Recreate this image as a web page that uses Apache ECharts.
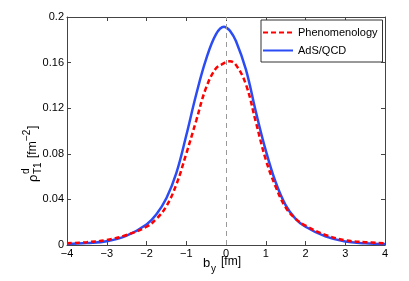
<!DOCTYPE html>
<html><head><meta charset="utf-8">
<script src="https://cdn.jsdelivr.net/npm/echarts@6/dist/echarts.min.js"></script>
<style>html,body{margin:0;padding:0;background:#fff}#c{width:409px;height:281px}</style>
</head><body><div id="c"></div>
<script>
const xs = [-4,-3.5,-3,-2.5,-2,-1.75,-1.5,-1.25,-1,-0.75,-0.5,-0.25,-0.05,0,0.1,0.25,0.5,0.75,1,1.25,1.5,1.75,2,2.5,3,3.5,4];
const phenom = [0.0015,0.0025,0.0044,0.0088,0.016,0.023,0.034,0.053,0.080,0.109,0.138,0.155,0.1595,0.1605,0.1612,0.158,0.141,0.108,0.075,0.051,0.033,0.023,0.017,0.0088,0.0042,0.0025,0.0015];
const adsqcd = [0.0009,0.0017,0.0032,0.0082,0.018,0.027,0.041,0.063,0.096,0.132,0.163,0.185,0.1915,0.1908,0.188,0.179,0.154,0.117,0.083,0.055,0.035,0.023,0.016,0.0075,0.0030,0.0016,0.0009];
const xTicks = [-4,-3,-2,-1,0,1,2,3,4];
const yTicks = [0,0.04,0.08,0.12,0.16,0.2];
const names = ['Phenomenology','AdS/QCD'];

const chart = echarts.init(document.getElementById('c'), null, {renderer:'canvas'});
const axisCol = '#444';
const font = 'Liberation Sans, Arial, sans-serif';
const fmt = v => String(v).replace('-', '\u2212');
const common = {
  axisLine:{show:true,onZero:false,lineStyle:{color:axisCol,width:1}},
  axisTick:{show:true,inside:true,length:4,lineStyle:{color:axisCol}},
  splitLine:{show:false}
};
const lab = {color:'#000',fontSize:11,fontFamily:font};
chart.setOption({
  animation:false,
  grid:{left:67,right:24,top:17,bottom:36},
  xAxis:[
    Object.assign({type:'value',min:xTicks[0],max:xTicks[xTicks.length-1],interval:1,position:'bottom',
      axisLabel:Object.assign({formatter:fmt,margin:3},lab)},common),
    Object.assign({type:'value',min:xTicks[0],max:xTicks[xTicks.length-1],interval:1,position:'top',axisLabel:{show:false}},common)
  ],
  yAxis:[
    Object.assign({type:'value',min:yTicks[0],max:yTicks[yTicks.length-1],interval:0.04,position:'left',
      axisLabel:Object.assign({margin:3},lab)},common),
    Object.assign({type:'value',min:yTicks[0],max:yTicks[yTicks.length-1],interval:0.04,position:'right',axisLabel:{show:false}},common)
  ],
  legend:{
    left:261, top:20, orient:'vertical', itemWidth:30, itemHeight:12, itemGap:7,
    padding:[7,5,6,1], borderColor:'#333', borderWidth:1, backgroundColor:'#fff',
    textStyle:{color:'#000',fontSize:11,fontFamily:font},
    itemStyle:{opacity:0},
    data:names
  },
  series:[
    {name:names[0],type:'line',smooth:0.4,symbol:'none',
     data:xs.map((x,i)=>[x,phenom[i]]),
     lineStyle:{color:'#ff0000',width:2.5,type:[5,3]},itemStyle:{color:'#ff0000'},z:3,
     markLine:{silent:true,symbol:'none',label:{show:false},
       lineStyle:{color:'#999',type:[5,4],width:1},data:[{xAxis:0}]}},
    {name:names[1],type:'line',smooth:0.4,symbol:'none',
     data:xs.map((x,i)=>[x,adsqcd[i]]),
     lineStyle:{color:'#2b4cf5',width:2.5,type:'solid'},itemStyle:{color:'#2b4cf5'},z:2}
  ],
  graphic:[
    {type:'group',x:33,y:144,rotation:Math.PI/2,children:[
      {type:'text',x:-38,y:0,style:{text:'ρ',font:'13px '+font,fill:'#000',textVerticalAlign:'middle'}},
      {type:'text',x:-30,y:-7,style:{text:'d',font:'10px '+font,fill:'#000',textVerticalAlign:'middle'}},
      {type:'text',x:-30,y:5,style:{text:'T1',font:'10px '+font,fill:'#000',textVerticalAlign:'middle'}},
      {type:'text',x:-14,y:0,style:{text:'[fm',font:'12px '+font,fill:'#000',textVerticalAlign:'middle'}},
      {type:'text',x:3,y:-6,style:{text:'\u22122',font:'10px '+font,fill:'#000',textVerticalAlign:'middle'}},
      {type:'text',x:15,y:0,style:{text:']',font:'12px '+font,fill:'#000',textVerticalAlign:'middle'}}
    ]},
    {type:'text',x:203,y:263,style:{text:'b',font:'13px '+font,fill:'#000',textVerticalAlign:'middle'}},
    {type:'text',x:211,y:269,style:{text:'y',font:'10px '+font,fill:'#000',textVerticalAlign:'middle'}},
    {type:'text',x:221,y:262,style:{text:'[fm]',font:'12px '+font,fill:'#000',textVerticalAlign:'middle'}}
  ]
});
</script></body></html>
